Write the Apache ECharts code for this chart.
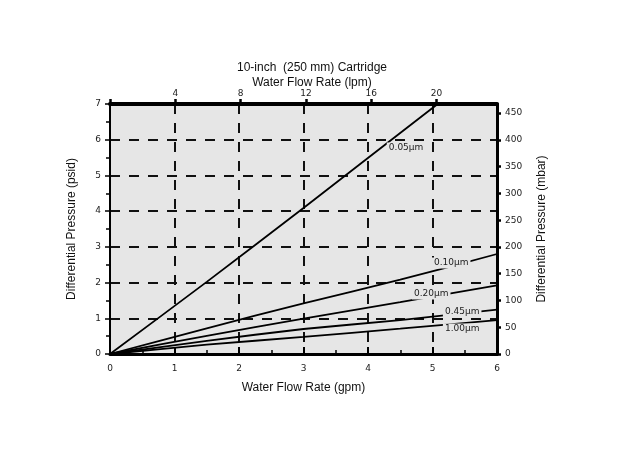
<!DOCTYPE html>
<html><head><meta charset="utf-8">
<script src="https://cdn.jsdelivr.net/npm/echarts@6/dist/echarts.min.js"></script>
<style>html,body{margin:0;padding:0;background:#fff}#c{width:617px;height:458px}</style>
</head><body><div id="c"></div>
<script>
// gpm values and differential pressure (psid)
const flow05 = [0, 1.5, 3, 5.08];
const dp05   = [0, 2.02, 4.09, 7];
const flowFine = [0, 1.5, 3, 4.5, 6];
const dp10  = [0, 0.72, 1.42, 2.08, 2.80];
const dp20  = [0, 0.51, 0.99, 1.45, 1.92];
const dp45  = [0, 0.37, 0.70, 0.95, 1.24];
const dp100 = [0, 0.26, 0.48, 0.71, 0.95];
const seriesNames = ['0.05µm', '0.10µm', '0.20µm', '0.45µm', '1.00µm'];
// label anchor positions (gpm, psid)
const labelX = [4.59, 5.29, 4.98, 5.46, 5.46];
const labelY = [5.77, 2.55, 1.68, 1.18, 0.70];

const pair = (xs, ys) => xs.map((x, i) => [x, ys[i]]);
const datas = [pair(flow05, dp05), pair(flowFine, dp10), pair(flowFine, dp20), pair(flowFine, dp45), pair(flowFine, dp100)];

const tickFont = {fontFamily: 'DejaVu Sans', fontSize: 9, color: '#222'};
const titleFont = {fontFamily: 'Liberation Sans', fontSize: 12, color: '#111'};
const dash = {type: [10, 9], color: '#111', width: 2};

const chart = echarts.init(document.getElementById('c'));
chart.setOption({
  animation: false,
  backgroundColor: '#fff',
  title: {
    text: '10-inch  (250 mm) Cartridge\nWater Flow Rate (lpm)',
    left: 307, top: 55, textAlign: 'center',
    textStyle: Object.assign({lineHeight: 15, fontWeight: 'normal'}, titleFont)
  },
  grid: {left: 110, right: 120, top: 104, bottom: 104, show: true, backgroundColor: '#e6e6e6', borderWidth: 0},
  xAxis: [
    {type: 'value', position: 'bottom', min: 0, max: 6, interval: 1,
     name: 'Water Flow Rate (gpm)', nameLocation: 'middle', nameGap: 28, nameTextStyle: titleFont,
     axisLine: {onZero: false, lineStyle: {color: '#000', width: 3}},
     axisTick: {inside: true, length: 7, lineStyle: {color: '#000', width: 2}},
     minorTick: {show: true, splitNumber: 2, length: 4, lineStyle: {color: '#000', width: 1.5}},
     axisLabel: Object.assign({margin: 10}, tickFont),
     splitLine: {show: true, showMinLine: false, showMaxLine: false, lineStyle: dash}},
    {type: 'value', position: 'top', min: 0, max: 23.7, interval: 4,
     axisLine: {onZero: false, lineStyle: {color: '#000', width: 4}},
     axisTick: {length: 5, lineStyle: {color: '#000', width: 2.5}},
     axisLabel: Object.assign({margin: 6, showMaxLabel: false,
       formatter: v => (v === 0 ? '' : String(v))}, tickFont),
     splitLine: {show: false}}
  ],
  yAxis: [
    {type: 'value', position: 'left', min: 0, max: 7, interval: 1,
     name: 'Differential Pressure (psid)', nameLocation: 'middle', nameGap: 32, nameTextStyle: titleFont,
     axisLine: {show: true, onZero: false, lineStyle: {color: '#000', width: 2}},
     axisTick: {show: true, length: 5, lineStyle: {color: '#000', width: 1.5}},
     minorTick: {show: true, splitNumber: 2, length: 4, lineStyle: {color: '#000', width: 1.5}},
     axisLabel: Object.assign({margin: 9}, tickFont),
     splitLine: {show: true, showMinLine: false, showMaxLine: false, lineStyle: dash}},
    {type: 'value', position: 'right', min: 0, max: 467, interval: 50,
     name: 'Differential Pressure (mbar)', nameLocation: 'middle', nameGap: 39, nameRotate: 90,
     nameTextStyle: titleFont,
     axisLine: {show: true, onZero: false, lineStyle: {color: '#000', width: 3}},
     axisTick: {show: true, length: 4, lineStyle: {color: '#000', width: 2.5}},
     axisLabel: Object.assign({margin: 8, showMaxLabel: false,
       formatter: v => (v > 450 ? '' : String(v))}, tickFont),
     splitLine: {show: false}}
  ],
  series: datas.map((d, i) => ({
    type: 'line', name: seriesNames[i], data: d, xAxisIndex: 0, yAxisIndex: 0,
    showSymbol: false, symbol: 'none', z: 3, smooth: 0.2,
    lineStyle: {color: '#000', width: 1.8},
    markPoint: {
      symbol: 'rect', symbolSize: 1, itemStyle: {color: 'rgba(0,0,0,0)'},
      label: {show: true, position: 'inside', formatter: seriesNames[i],
        fontFamily: 'DejaVu Sans', fontSize: 9, color: '#222',
        backgroundColor: '#e6e6e6', padding: [1, 2]},
      data: [{coord: [labelX[i], labelY[i]]}]
    }
  }))
});
</script></body></html>
